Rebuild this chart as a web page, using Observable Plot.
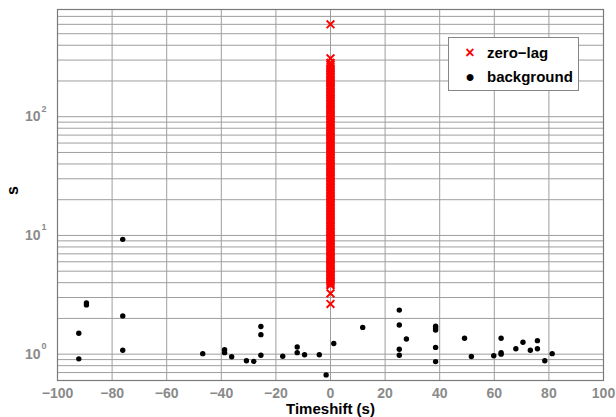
<!DOCTYPE html>
<html>
<head>
<meta charset="utf-8">
<script src="https://cdn.jsdelivr.net/npm/d3@7"></script>
<script src="https://cdn.jsdelivr.net/npm/@observablehq/plot@0.6"></script>
<style>
  html, body { margin: 0; padding: 0; background: #fff; }
  #wrap { position: relative; width: 616px; height: 417px; font-family: "Liberation Sans", Arial, sans-serif; }
  #legend { position: absolute; left: 448px; top: 37px; width: 129px; height: 52px; border: 1px solid #858585; background: #fff; box-sizing: content-box; }
  #legend .item { position: absolute; left: 0; font: bold 15px "Liberation Sans", Arial, sans-serif; color: #000; white-space: nowrap; }
  #legend .sym { position: absolute; width: 20px; text-align: center; }
</style>
</head>
<body>
<div id="wrap"></div>
<script>
// ---- data ----
const xTicks = [-100, -80, -60, -40, -20, 0, 20, 40, 60, 80, 100];
const yGridTicks = [0.6, 0.7, 0.8, 0.9, 1, 2, 3, 4, 5, 6, 7, 8, 9, 10, 20, 30, 40, 50, 60, 70, 80, 90, 100, 200, 300, 400, 500, 600, 700, 800];
const yLabelValues = [1, 10, 100];
const yLabelExponents = ["0", "1", "2"];

// zero-lag events: timeshift 0
const zeroLagS = [600, 310, 285, 275, 265, 256, 248, 240, 232, 225, 218, 212, 206, 200, 195, 190, 184, 179, 174, 169, 164, 160, 155, 150, 146, 142, 138, 134, 130, 126, 122, 118, 115, 112, 109, 106, 103, 100, 97, 94, 91, 88.5, 86, 83.5, 81, 78.7, 76.5, 74.2, 72, 70, 68, 66.2, 64.5, 62.4, 60.5, 58.7, 57, 55.5, 54, 52.5, 51, 49.5, 48, 46.6, 45.3, 44, 42.7, 41.5, 40.3, 39.1, 38, 36.9, 35.8, 34.8, 33.8, 32.8, 31.9, 31, 30.1, 29.2, 28.4, 27.6, 26.8, 26, 25.3, 24.5, 23.8, 23.1, 22.5, 21.8, 21.2, 20.6, 20, 19.4, 18.9, 18.3, 17.8, 17.3, 16.8, 16.3, 15.8, 15.3, 14.9, 14.5, 14.1, 13.7, 13.3, 12.9, 12.5, 12.1, 11.8, 11.4, 11.1, 10.8, 10.5, 10.2, 9.9, 9.6, 9.4, 9.1, 8.8, 8.55, 8.3, 8.1, 7.9, 7.65, 7.4, 7.2, 7.0, 6.8, 6.6, 6.45, 6.3, 6.1, 5.9, 5.75, 5.6, 5.45, 5.3, 5.15, 5.0, 4.85, 4.7, 4.57, 4.45, 4.32, 4.2, 4.1, 4.0, 3.9, 3.8, 3.25, 2.65];

// background events
const bgShift = [-76.1, -89.4, -89.4, -76.1, -92.2, -76.1, -92.2, -46.8, -38.8, -38.8, -36.2, -30.8, -28.1, -25.5, -25.5, -25.5, -17.5, -12.2, -12.2, -9.5, -4.1, -1.6, 1.2, 11.8, 25.2, 25.2, 25.2, 25.2, 27.8, 38.5, 38.5, 38.5, 38.5, 38.5, 49.1, 51.6, 59.8, 62.5, 62.5, 62.5, 67.9, 70.5, 73.2, 75.8, 75.8, 78.5, 81.2];
const bgS     = [9.27, 2.6, 2.7, 2.10, 1.50, 1.08, 0.913, 1.01, 1.09, 1.03, 0.95, 0.88, 0.87, 1.71, 1.46, 0.98, 0.96, 1.15, 1.03, 0.99, 0.99, 0.669, 1.23, 1.68, 2.35, 1.76, 1.10, 0.98, 1.34, 1.72, 1.66, 1.60, 1.14, 0.866, 1.36, 0.955, 0.97, 1.36, 1.03, 1.00, 1.11, 1.26, 1.08, 1.30, 1.11, 0.88, 1.01];

const zeroLag = zeroLagS.map(s => ({shift: 0, s}));
const background = bgShift.map((t, i) => ({shift: t, s: bgS[i]}));

const tickGray = "#8a8a8a";
const gridGray = "#9e9e9e";
const fmt = d => d < 0 ? "\u2212" + (-d) : String(d);

const chart = Plot.plot({
  width: 616,
  height: 417,
  marginLeft: 57,
  marginRight: 13,
  marginTop: 9,
  marginBottom: 37,
  style: {fontFamily: "'Liberation Sans', Arial, sans-serif", background: "#fff"},
  x: {domain: [-100, 100], axis: null},
  y: {type: "log", domain: [0.6, 800], axis: null},
  marks: [
    Plot.gridX(xTicks, {stroke: gridGray, strokeOpacity: 1, strokeWidth: 1}),
    Plot.gridY(yGridTicks, {stroke: gridGray, strokeOpacity: 1, strokeWidth: 1}),
    Plot.frame({stroke: "#7a7a7a", strokeWidth: 1.2}),
    Plot.dot(zeroLag, {x: "shift", y: "s", symbol: "times", r: 3.6, stroke: "#ff0000", strokeWidth: 1.9}),
    Plot.dot(background, {x: "shift", y: "s", r: 2.7, fill: "#000", stroke: null}),
    Plot.text(xTicks, {x: d => d, frameAnchor: "bottom", dy: 13, lineAnchor: "middle", text: fmt, fill: tickGray, fontWeight: "bold", fontSize: 14}),
    Plot.text(yLabelValues, {y: d => d, frameAnchor: "left", dx: -17, textAnchor: "end", lineAnchor: "middle", text: () => "10", fill: tickGray, fontWeight: "bold", fontSize: 14}),
    Plot.text(yLabelValues, {y: d => d, frameAnchor: "left", dx: -16, dy: -8, textAnchor: "start", lineAnchor: "middle", text: (d, i) => yLabelExponents[i], fill: tickGray, fontWeight: "bold", fontSize: 9}),
    Plot.text(["Timeshift (s)"], {frameAnchor: "bottom", dy: 29, lineAnchor: "middle", text: d => d, fill: "#000", fontWeight: "bold", fontSize: 15}),
    Plot.text(["s"], {frameAnchor: "left", dx: -45, rotate: -90, lineAnchor: "middle", text: d => d, fill: "#000", fontWeight: "bold", fontSize: 16})
  ]
});

const wrap = document.getElementById("wrap");
wrap.appendChild(chart);

// legend
const legend = document.createElement("div");
legend.id = "legend";
legend.innerHTML =
  '<div class="item" style="top:6px"><span class="sym" style="left:11px;color:#ff0000;font-size:16px;line-height:18px">\u00d7</span><span style="position:absolute;left:38px;line-height:18px">zero\u2212lag</span></div>' +
  '<div class="item" style="top:30px"><span class="sym" style="left:11px;font-size:16px;line-height:18px">\u25cf</span><span style="position:absolute;left:38px;line-height:18px">background</span></div>';
wrap.appendChild(legend);
</script>
</body>
</html>
